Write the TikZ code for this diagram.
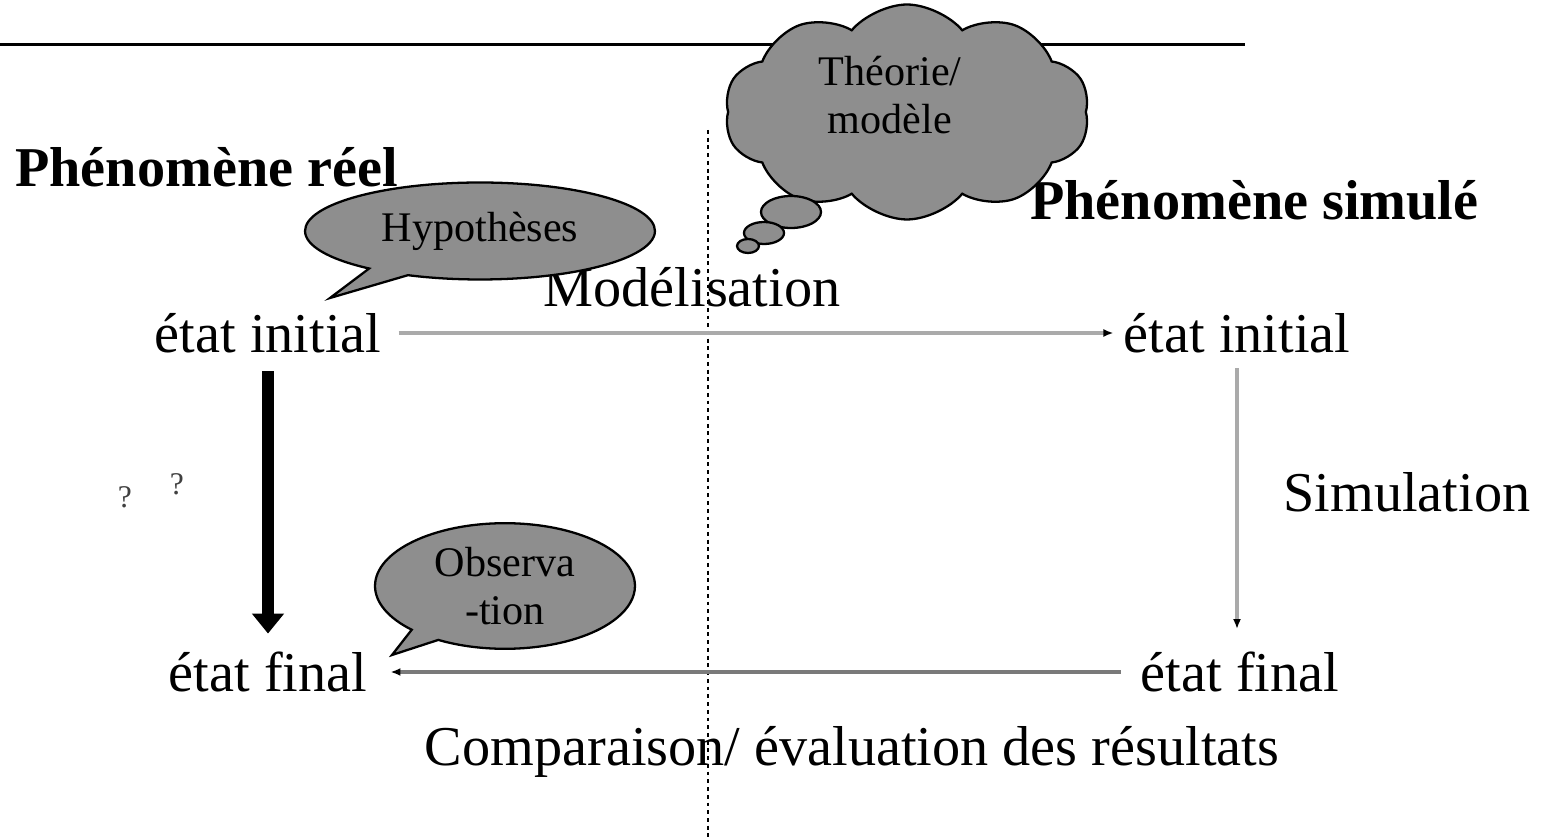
\documentclass[tikz,border=0pt]{standalone}
\usepackage{fontspec}
\setmainfont{Liberation Serif}
\usetikzlibrary{arrows.meta,shapes.symbols,shapes.callouts}
\definecolor{bubgray}{HTML}{8E8E8E}
\definecolor{lightarrow}{HTML}{AAAAAA}
\definecolor{darkarrow}{HTML}{7A7A7A}
\begin{document}
\begin{tikzpicture}[x=0.02cm,y=-0.02cm,
  lbl/.style={inner sep=0pt,font=\fontsize{32}{38}\selectfont},
  ttl/.style={inner sep=0pt,font=\fontsize{32}{38}\selectfont\bfseries,anchor=west},
  bubtxt/.style={font=\fontsize{24}{27}\selectfont,align=center},
  bubshape/.style={draw=black,fill=bubgray,line width=1.3pt},
  qmark/.style={inner sep=0pt,font=\fontsize{18}{20}\selectfont,text=black!75},
  thinarrow/.style={line width=1.8pt,-{Latex[length=0.2cm,width=0.16cm,color=black]}},
]
\useasboundingbox (0,0) rectangle (1543,837);

% top rule
\coordinate (ruleL) at (0,45);
\coordinate (ruleR) at (1245,45);
\draw[line width=1.7pt] (ruleL) -- (ruleR);

% dotted separator
\coordinate (sepT) at (708,130);
\coordinate (sepB) at (708,837);
\draw[line width=1.2pt,dash pattern=on 2.2pt off 2.2pt] (sepT) -- (sepB);

% titles
\node[ttl] (reel) at (15,167) {Phénomène réel};
\node[ttl] (simu) at (1030,200) {Phénomène simulé};

% modelisation label (partly covered by bubble)
\node[lbl] (model) at (692,287) {Modélisation};

% hypotheses bubble
\node[ellipse callout,bubshape,bubtxt,minimum width=7cm,minimum height=1.94cm,
      callout absolute pointer={(330,298)}] (hyp) at (480,231) {Hypothèses};

% cloud
\node[cloud,cloud puffs=10,cloud puff arc=100,aspect=1.7,bubshape,minimum width=7.3cm,minimum height=4.3cm] (cl) at (907,112) {};
\node[bubtxt,inner sep=0pt] (theo) at (890,95) {Théorie/\\modèle};
\draw[bubshape] (791,212) ellipse [x radius=30, y radius=16];
\draw[bubshape] (764,233) ellipse [x radius=20, y radius=11];
\draw[bubshape] (748,246) ellipse [x radius=11, y radius=7];

% states
\node[lbl] (iL) at (268,333) {état initial};
\node[lbl] (iR) at (1237,333) {état initial};
\node[lbl] (fL) at (268,672) {état final};
\node[lbl] (fR) at (1240,672) {état final};
\node[lbl] (sim) at (1407,492) {Simulation};
\node[lbl] (comp) at (852,752) {Comparaison/ évaluation des résultats};
\node[qmark] (q1) at (125,497) {?};
\node[qmark] (q2) at (177,484) {?};

% observation bubble
\node[ellipse callout,bubshape,bubtxt,minimum width=5.2cm,minimum height=2.16cm,
      callout absolute pointer={(392,655)}] (obs) at (505,586) {Observa\\-tion};

% connectors
\draw[thinarrow,draw=lightarrow,shorten <=0.34cm,shorten >=0.2cm] (iL.east) -- (iR.west);
\draw[thinarrow,draw=lightarrow,shorten <=0.3cm,shorten >=0.45cm] (iR.south) -- (iR.south |- fR.north);
\draw[thinarrow,draw=darkarrow,shorten <=0.4cm,shorten >=0.46cm] (fR.west) -- (fL.east);
\draw[line width=6.5pt,-{Triangle[length=0.4cm,width=0.62cm]},shorten <=0.36cm,shorten >=0.36cm] (iL.south) -- (fL.north);
\end{tikzpicture}
\end{document}
